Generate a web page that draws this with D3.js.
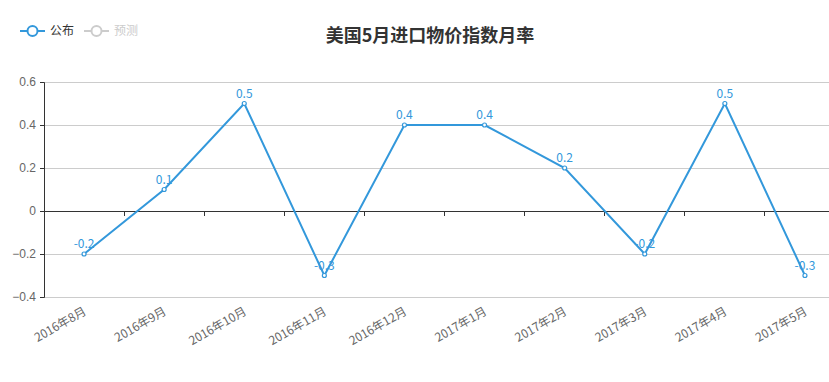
<!DOCTYPE html>
<html>
<head>
<meta charset="utf-8">
<script src="https://cdn.jsdelivr.net/npm/d3@7"></script>
<style>
  body { margin: 0; background: #fff; }
  svg { font-family: "Noto Sans CJK SC", "Noto Sans", sans-serif; }
</style>
</head>
<body>
<div id="chart"></div>
<script>
let months = ["2016年8月", "2016年9月", "2016年10月", "2016年11月", "2016年12月",
              "2017年1月", "2017年2月", "2017年3月", "2017年4月", "2017年5月"];
let published = [-0.2, 0.1, 0.5, -0.3, 0.4, 0.4, 0.2, -0.2, 0.5, -0.3];
let yTicks = [-0.4, -0.2, 0, 0.2, 0.4, 0.6];
let legendNames = ["公布", "预测"];

let W = 829, H = 382;
let margin = { top: 82, right: -16, bottom: 85, left: 44 };
let w = W - margin.left - margin.right;
let h = H - margin.top - margin.bottom;

let svg = d3.select("#chart")
            .append("svg")
            .attr("width", W)
            .attr("height", H);

let g = svg.append("g")
           .attr("transform", "translate(" + margin.left + "," + margin.top + ")");

let x = d3.scaleBand().domain(months).range([0, w]);
let y = d3.scaleLinear().domain([-0.4, 0.6]).range([h, 0]);
let cx = d => x(d) + x.bandwidth() / 2;

// grid
g.append("g")
 .selectAll("line")
 .data(yTicks.filter(t => t !== 0))
 .enter()
 .append("line")
 .attr("x1", 0).attr("x2", w)
 .attr("y1", d => y(d)).attr("y2", d => y(d))
 .style("stroke", "#ccc")
 .style("stroke-width", 1)
 .attr("shape-rendering", "crispEdges");

// y axis
let yAxis = g.append("g")
             .call(d3.axisLeft(y).tickValues(yTicks).tickSize(4).tickPadding(4)
                     .tickFormat(d => d === 0 ? "0" : d3.format(".1f")(d)));
yAxis.select(".domain").style("stroke", "#333");
yAxis.selectAll(".tick line").style("stroke", "#333");
yAxis.selectAll("text").style("fill", "#666").style("font-size", "12px");

// x axis on zero
let xAxis = g.append("g")
             .attr("transform", "translate(0," + y(0) + ")")
             .call(d3.axisBottom(x).tickSize(0).tickFormat(""));
xAxis.select(".domain").style("stroke", "#333");
xAxis.selectAll(".tick").remove();

g.append("g")
 .selectAll("line")
 .data(months.slice(1))
 .enter()
 .append("line")
 .attr("x1", d => x(d)).attr("x2", d => x(d))
 .attr("y1", y(0)).attr("y2", y(0) + 5)
 .style("stroke", "#333")
 .attr("shape-rendering", "crispEdges");

// x labels, rotated
g.append("g")
 .selectAll("text")
 .data(months)
 .enter()
 .append("text")
 .attr("transform", d => "translate(" + (cx(d) + 1) + "," + (h + 13) + ") rotate(-30)")
 .attr("text-anchor", "end")
 .attr("dy", "0.35em")
 .style("fill", "#666")
 .style("font-size", "12px")
 .text(d => d);

// line
let line = d3.line()
             .x((d, i) => cx(months[i]))
             .y(d => y(d));

g.append("path")
 .datum(published)
 .attr("d", line)
 .style("fill", "none")
 .style("stroke", "#3398db")
 .style("stroke-width", 2);

g.append("g")
 .selectAll("circle")
 .data(published)
 .enter()
 .append("circle")
 .attr("cx", (d, i) => cx(months[i]))
 .attr("cy", d => y(d))
 .attr("r", 2)
 .style("fill", "#fff")
 .style("stroke", "#3398db")
 .style("stroke-width", 1.2);

g.append("g")
 .selectAll("text")
 .data(published)
 .enter()
 .append("text")
 .attr("x", (d, i) => cx(months[i]))
 .attr("y", d => y(d) - 6)
 .attr("text-anchor", "middle")
 .style("fill", "#3398db")
 .style("font-size", "12px")
 .text(d => d);

// title
svg.append("text")
   .attr("x", 430)
   .attr("y", 42)
   .attr("text-anchor", "middle")
   .style("font-size", "18px")
   .style("font-weight", "bold")
   .style("fill", "#333")
   .text("美国5月进口物价指数月率");

// legend
let legendColors = ["#3398db", "#ccc"];
let legendText = ["#333", "#ccc"];
let lg = svg.append("g").attr("transform", "translate(20,31)");
let item = lg.selectAll("g")
             .data(legendNames)
             .enter()
             .append("g")
             .attr("transform", (d, i) => "translate(" + (i * 64) + ",0)");
item.append("line")
    .attr("x1", 0).attr("x2", 25)
    .style("stroke", (d, i) => legendColors[i])
    .style("stroke-width", 2);
item.append("circle")
    .attr("cx", 12.5).attr("r", 5)
    .style("fill", "#fff")
    .style("stroke", (d, i) => legendColors[i])
    .style("stroke-width", 2);
item.append("text")
    .attr("x", 30)
    .attr("dy", "0.35em")
    .style("font-size", "12px")
    .style("fill", (d, i) => legendText[i])
    .text(d => d);
</script>
</body>
</html>
